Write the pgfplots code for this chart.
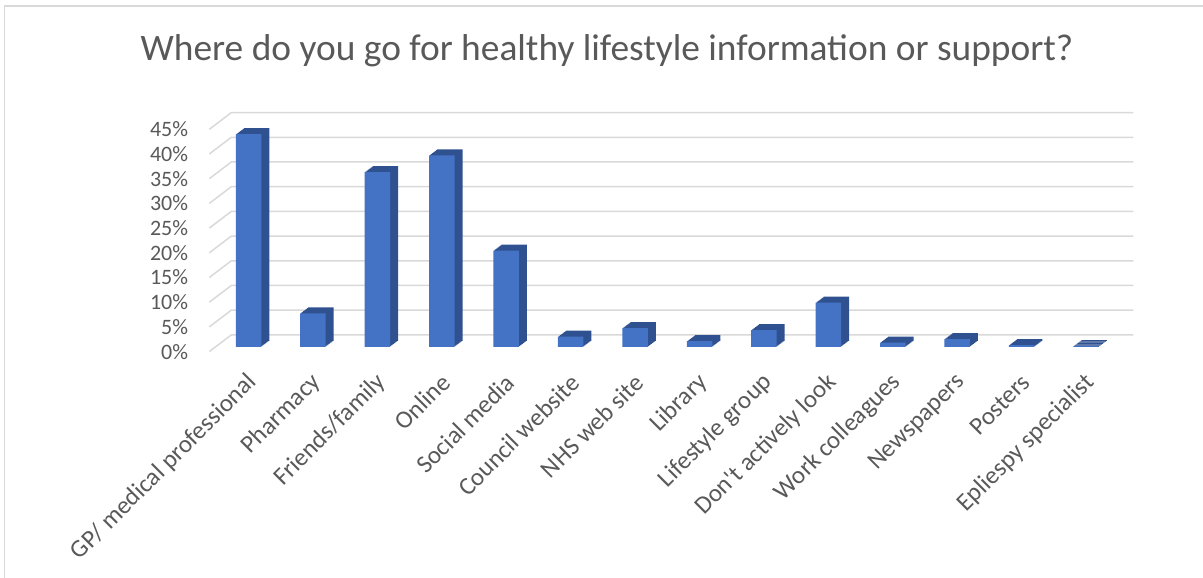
\documentclass[border=0pt]{standalone}
\usepackage{pgfplots}
\pgfplotsset{compat=1.18}
\usepackage{pgfplotstable}
\usepackage{fontspec}
\setmainfont{Carlito}
\definecolor{barfront}{HTML}{4472C4}
\definecolor{barside}{HTML}{2F5190}
\definecolor{gridc}{HTML}{D9D9D9}
\definecolor{txt}{HTML}{595959}

\pgfplotstableread{
idx val
0 43.1
1 6.8
2 35.4
3 38.8
4 19.5
5 2.1
6 3.8
7 1.2
8 3.4
9 9.0
10 0.9
11 1.6
12 0.4
13 0.2
}\datatable

\begin{document}
\begin{tikzpicture}[x=1pt,y=1pt]
\useasboundingbox (0,0) rectangle (1203,578);
\draw[gridc, line width=1.3pt] (4.5,0) -- (4.5,572) -- (1203,572);
\node[text=txt, font=\fontsize{37.4}{41}\selectfont] at (607,527) {Where do you go for healthy lifestyle information or support?};
\begin{axis}[
  at={(209.3pt,226.4pt)}, anchor=south west,
  scale only axis, width=902pt, height=222.3pt,
  xmin=-0.5, xmax=13.5, ymin=0, ymax=45,
  axis line style={draw=none},
  major tick length=0pt,
  ytick={0,5,10,15,20,25,30,35,40,45},
  yticklabels={0\%,5\%,10\%,15\%,20\%,25\%,30\%,35\%,40\%,45\%},
  xtick={0,1,2,3,4,5,6,7,8,9,10,11,12,13},
  xticklabels={GP/ medical professional,Pharmacy,Friends/family,Online,Social media,Council website,NHS web site,Library,Lifestyle group,Don\textquotesingle t actively look,Work colleagues,Newspapers,Posters,Epliespy specialist},
  tick label style={text=txt},
  xticklabel style={font=\fontsize{25}{28}\selectfont, rotate=45, anchor=east, inner sep=0pt, xshift=-11pt, yshift=-27pt},
  yticklabel style={font=\fontsize{22}{25}\selectfont, anchor=east, inner sep=0pt, xshift=-21pt},
  clip=false,
  ybar, bar width=25.5pt,
]
\pgfplotsinvokeforeach{0,5,10,15,20,25,30,35,40,45}{
  \draw[gridc, line width=1.5pt] (axis cs:-0.5,#1) -- ++(22pt,16.7pt) -- ([shift={(22pt,16.7pt)}]axis cs:13.5,#1);
}
\addplot[draw=none, fill=barside, bar shift=0pt, xshift=15pt, yshift=10.6pt] table[x=idx,y=val]{\datatable};
\addplot[draw=none, fill=barside, bar shift=0pt, xshift=14pt, yshift=9.85pt] table[x=idx,y=val]{\datatable};
\addplot[draw=none, fill=barside, bar shift=0pt, xshift=13pt, yshift=9.1pt] table[x=idx,y=val]{\datatable};
\addplot[draw=none, fill=barside, bar shift=0pt, xshift=12pt, yshift=8.35pt] table[x=idx,y=val]{\datatable};
\addplot[draw=none, fill=barside, bar shift=0pt, xshift=11pt, yshift=7.6pt] table[x=idx,y=val]{\datatable};
\addplot[draw=none, fill=barside, bar shift=0pt, xshift=10pt, yshift=6.85pt] table[x=idx,y=val]{\datatable};
\addplot[draw=none, fill=barside, bar shift=0pt, xshift=9pt, yshift=6.1pt] table[x=idx,y=val]{\datatable};
\addplot[draw=none, fill=barside, bar shift=0pt, xshift=8pt, yshift=5.35pt] table[x=idx,y=val]{\datatable};
\addplot[draw=none, fill=barfront, bar shift=0pt, xshift=7pt, yshift=4.6pt] table[x=idx,y=val]{\datatable};
\end{axis}
\end{tikzpicture}
\end{document}
